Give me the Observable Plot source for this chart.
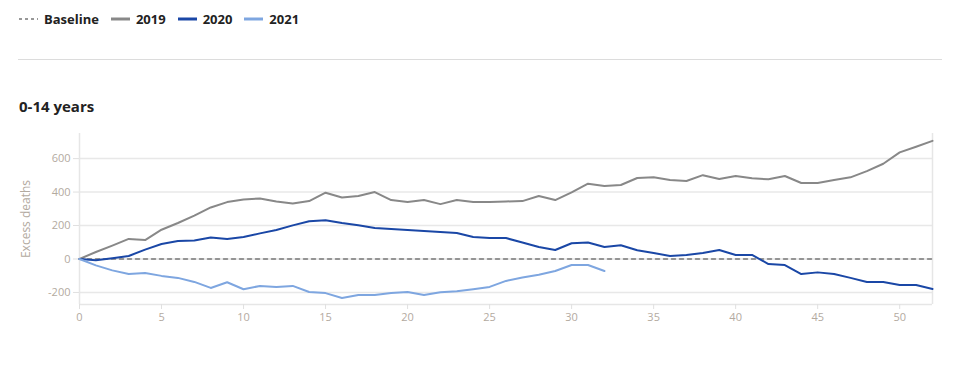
<!DOCTYPE html>
<html>
<head>
<meta charset="utf-8">
<script src="https://cdn.jsdelivr.net/npm/d3@7"></script>
<script src="https://cdn.jsdelivr.net/npm/@observablehq/plot@0.6"></script>
<style>
  body { margin: 0; background: #fff; font-family: "Open Sans", Roboto, sans-serif; }
  #legend { position: absolute; left: 19px; top: 10px; display: flex; align-items: center; font-size: 13px; font-weight: 700; color: #222; }
  #legend .item { display: flex; align-items: center; margin-right: 12px; }
  #legend svg { margin-right: 6px; }
  #sep { position: absolute; left: 18px; top: 59px; width: 924px; height: 1px; background: #dcdcdc; }
  #title { position: absolute; left: 19px; top: 96px; font-size: 15px; font-weight: 700; color: #222; }
  #chart { position: absolute; left: 0; top: 125px; }
</style>
</head>
<body>
<div id="legend"></div>
<div id="sep"></div>
<div id="title">0-14 years</div>
<div id="chart"></div>
<script>
const seriesNames = ["2019", "2020", "2021"];
const seriesColors = ["#888888", "#1a47a6", "#7ea6e0"];
const baselineColor = "#777777";
const yTicks = [-200, 0, 200, 400, 600];
const xTicks = [0, 5, 10, 15, 20, 25, 30, 35, 40, 45, 50];

const values2019 = [0, 42, 80, 120, 113, 175, 215, 259, 308, 340, 356, 362, 344, 332, 346, 396,
  368, 376, 400, 352, 340, 352, 328, 352, 340, 340, 344, 346, 376, 352, 398,
  450, 436, 442, 484, 488, 472, 466, 501, 478, 496, 482, 476, 496, 454, 454,
  472, 488, 525, 569, 637, 671, 706];
const values2020 = [0, -8, 4, 18, 56, 90, 107, 111, 129, 119, 131, 153, 173, 201, 225, 232,
  215, 201, 185, 179, 173, 167, 161, 155, 131, 125, 125, 99, 72, 54, 94,
  99, 72, 82, 52, 36, 18, 24, 36, 54, 24, 24, -30, -36, -90, -80,
  -90, -113, -137, -137, -155, -155, -179];
const values2021 = [0, -38, -68, -90, -84, -101, -113, -137, -173, -139, -181, -161, -167, -161, -197, -204,
  -233, -215, -215, -203, -197, -215, -199, -193, -181, -167, -131, -111, -94, -72, -36,
  -36, -72];

const seriesValues = [values2019, values2020, values2021];
const rows = [];
seriesValues.forEach((vals, i) => vals.forEach((v, w) => rows.push({week: w, value: v, series: seriesNames[i]})));
const weeks = d3.range(0, 53);

// Legend
const legend = document.getElementById("legend");
const legItems = [{name: "Baseline", color: baselineColor, dash: true}].concat(
  seriesNames.map((n, i) => ({name: n, color: seriesColors[i], dash: false})));
legItems.forEach(it => {
  const d = document.createElement("div");
  d.className = "item";
  d.innerHTML = `<svg width="19" height="4"><line x1="0" x2="19" y1="2" y2="2" stroke="${it.color}" stroke-width="${it.dash ? 1.5 : 3}" ${it.dash ? 'stroke-dasharray="3,3"' : ''}/></svg><span>${it.name}</span>`;
  legend.appendChild(d);
});

const tickColor = "#b3aa9f";
const chart = Plot.plot({
  width: 968,
  height: 209,
  marginLeft: 79,
  marginRight: 36,
  marginTop: 8,
  marginBottom: 30,
  style: {fontFamily: "'Open Sans', Roboto, sans-serif", fontSize: "11px", color: tickColor, background: "transparent"},
  x: {domain: [0, 52], ticks: xTicks, tickSize: 5, tickPadding: 3, label: null},
  y: {domain: [-272, 750], ticks: yTicks, tickSize: 6, tickPadding: 3, label: null},
  color: {domain: seriesNames, range: seriesColors},
  marks: [
    Plot.gridY(yTicks, {stroke: "#e8e8e8", strokeOpacity: 1, strokeWidth: 1.5}),
    Plot.ruleY([-272], {stroke: "#e6e6e6", strokeWidth: 1.5}),
    Plot.ruleX([0, 52], {stroke: "#e6e6e6", strokeWidth: 1.5}),
    Plot.axisY({ticks: yTicks, tickSize: 6, tickPadding: 3, stroke: "#e0e0e0", fill: tickColor, label: null, tickFormat: d => String(d)}),
    Plot.axisX({ticks: xTicks, tickSize: 5, tickPadding: 4, stroke: "#e0e0e0", fill: tickColor, label: null}),
    Plot.text(["Excess deaths"], {frameAnchor: "left", textAnchor: "middle", dx: -53, rotate: -90, fill: tickColor, fontSize: 12}),
    Plot.lineY(weeks, {x: d => d, y: 0, stroke: baselineColor, strokeWidth: 1.5, strokeDasharray: "4,4"}),
    Plot.line(rows, {x: "week", y: "value", z: "series", stroke: "series", strokeWidth: 2})
  ]
});
document.getElementById("chart").appendChild(chart);
</script>
</body>
</html>
